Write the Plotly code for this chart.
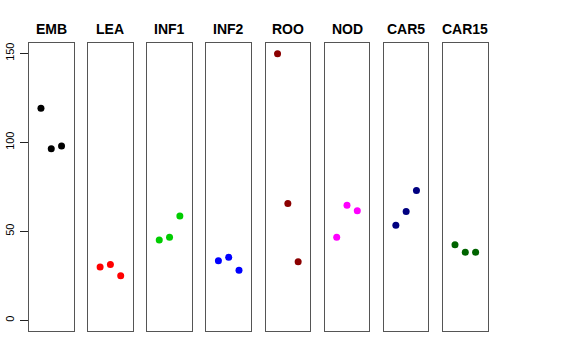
import plotly.graph_objects as go

categories = ["EMB", "LEA", "INF1", "INF2", "ROO", "NOD", "CAR5", "CAR15"]
colors = ["#000000", "#FF0000", "#00CD00", "#0000FF", "#8B0000", "#FF00FF", "#000080", "#006400"]
values = [
    [119.1, 96.4, 97.9],
    [29.9, 31.4, 25.1],
    [45.1, 46.6, 58.6],
    [33.5, 35.4, 28.1],
    [149.8, 65.7, 32.9],
    [46.6, 64.6, 61.6],
    [53.4, 61.2, 73.0],
    [42.5, 38.2, 38.2],
]
replicates = [1, 2, 3]
y_ticks = [0, 50, 100, 150]

W, H = 576, 360
left0, step, pw = 29.0, 59.15, 44.5
top, bottom = 43.0, 331.0

fig = go.Figure()
annotations = []
for i, (cat, col, vals) in enumerate(zip(categories, colors, values)):
    n = i + 1
    xa = "x" if n == 1 else f"x{n}"
    ya = "y" if n == 1 else f"y{n}"
    fig.add_trace(go.Scatter(x=replicates, y=vals, mode="markers",
                             marker=dict(color=col, size=7),
                             xaxis=xa, yaxis=ya, showlegend=False, hoverinfo="skip"))
    x0 = (left0 + step * i) / W
    x1 = (left0 + step * i + pw) / W
    xkey = "xaxis" if n == 1 else f"xaxis{n}"
    ykey = "yaxis" if n == 1 else f"yaxis{n}"
    fig.layout[xkey] = dict(domain=[x0, x1], range=[-0.16, 4.16], showgrid=False,
                            zeroline=False, showticklabels=False, ticks="",
                            showline=True, mirror=True, linecolor="#555555", linewidth=1,
                            anchor=ya, fixedrange=True, automargin=False)
    ydict = dict(domain=[1 - bottom / H, 1 - top / H], range=[-6, 155.8], showgrid=False,
                 zeroline=False, showline=True, mirror=True, linecolor="#555555", linewidth=1,
                 anchor=xa, fixedrange=True, automargin=False)
    if n == 1:
        ydict.update(tickvals=y_ticks, ticks="outside", ticklen=8, tickcolor="#222222",
                     tickangle=-90, ticklabelstandoff=2,
                     tickfont=dict(family="Liberation Sans", size=11, color="#000000"),
                     showticklabels=True)
    else:
        ydict.update(showticklabels=False, ticks="")
    fig.layout[ykey] = ydict
    annotations.append(dict(text=f"<b>{cat}</b>", x=(x0 + x1) / 2, y=1 - 29 / H,
                            xref="paper", yref="paper", showarrow=False,
                            xanchor="center", yanchor="middle",
                            font=dict(family="Liberation Sans", size=14, color="#000000")))

fig.update_layout(width=W, height=H, margin=dict(l=0, r=0, t=0, b=0, autoexpand=False),
                  plot_bgcolor="white", paper_bgcolor="white", annotations=annotations)
fig.write_html("out.html", config={"displayModeBar": False, "staticPlot": True},
               post_script="document.body.style.margin='0px';")
